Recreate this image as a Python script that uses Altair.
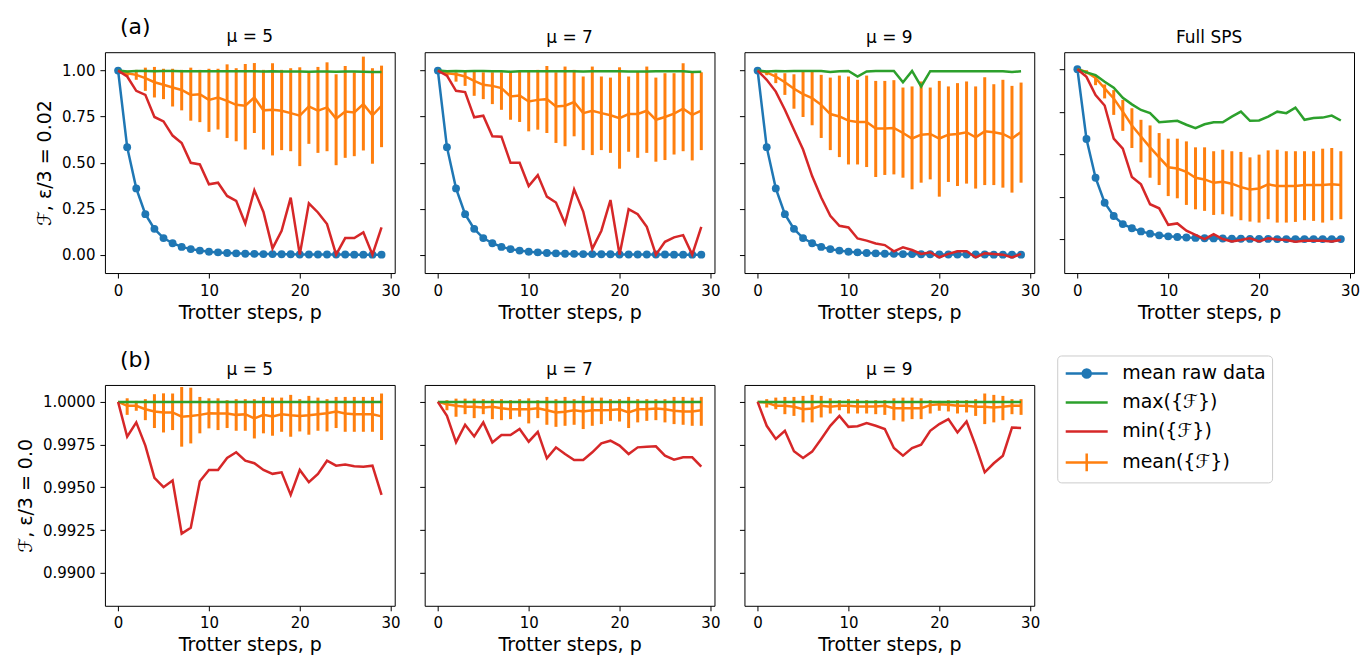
import altair as alt
import pandas as pd

# ---------------- data ----------------
steps = list(range(30))

# top row (epsilon/3 = 0.02)
raw_trotter = [1.0, 0.584, 0.36, 0.22, 0.14, 0.09, 0.062, 0.042, 0.03, 0.022, 0.016, 0.012, 0.009, 0.007, 0.005,
               0.004, 0.003, 0.003, 0.002, 0.002, 0.001, 0.001, 0.001, 0.001, 0.001, 0.001, 0.0, 0.0, 0.0, 0.0]
raw_sps = [1.0, 0.589, 0.361, 0.214, 0.136, 0.088, 0.064, 0.045, 0.032, 0.022, 0.016, 0.012, 0.009, 0.007, 0.005,
           0.004, 0.003, 0.002, 0.002, 0.001, 0.001, 0.001, 0.0, 0.0, 0.0, 0.0, 0.0, 0.0, 0.0, 0.0]

max_mu5 = [1.0, 0.995, 0.998, 0.998, 0.997, 0.998, 0.998, 0.997, 0.996, 0.997, 0.997, 0.996, 0.997, 0.997, 0.996,
           0.996, 0.995, 0.996, 0.995, 0.995, 0.995, 0.994, 0.995, 0.995, 0.994, 0.995, 0.995, 0.994, 0.993, 0.993]
min_mu5 = [1.0, 0.968, 0.89, 0.868, 0.748, 0.724, 0.647, 0.607, 0.499, 0.49, 0.382, 0.391, 0.319, 0.292, 0.169,
           0.35, 0.232, 0.034, 0.13, 0.31, 0.0, 0.279, 0.229, 0.166, 0.0, 0.09, 0.09, 0.121, 0.0, 0.148]
mean_mu5 = [1.0, 0.986, 0.977, 0.959, 0.937, 0.923, 0.908, 0.895, 0.868, 0.872, 0.841, 0.854, 0.836, 0.814, 0.809,
            0.854, 0.784, 0.787, 0.782, 0.769, 0.755, 0.805, 0.782, 0.8, 0.739, 0.778, 0.773, 0.818, 0.757, 0.809]
hi_mu5 = [1.0, 1.0, 1.004, 1.016, 1.02, 1.01, 1.01, 1.004, 1.016, 1.004, 1.01, 1.01, 1.034, 1.013, 1.036,
          1.041, 1.004, 1.04, 1.004, 1.013, 1.018, 0.995, 1.02, 1.045, 0.98, 1.025, 0.991, 1.076, 1.013, 1.027]
lo_mu5 = [1.0, 0.97, 0.95, 0.89, 0.854, 0.845, 0.805, 0.784, 0.728, 0.72, 0.667, 0.68, 0.634, 0.616, 0.571,
          0.661, 0.571, 0.539, 0.568, 0.562, 0.481, 0.602, 0.553, 0.562, 0.486, 0.526, 0.535, 0.566, 0.494, 0.584]

max_mu7 = [1.0, 0.996, 0.998, 0.997, 0.998, 0.998, 0.997, 0.996, 0.994, 0.996, 0.997, 0.997, 0.997, 0.996, 0.997,
           0.997, 0.995, 0.996, 0.996, 0.996, 0.996, 0.995, 0.995, 0.995, 0.996, 0.996, 0.996, 0.997, 0.993, 0.994]
min_mu7 = [1.0, 0.973, 0.89, 0.883, 0.746, 0.755, 0.643, 0.641, 0.499, 0.499, 0.373, 0.432, 0.315, 0.283, 0.169,
           0.355, 0.234, 0.031, 0.13, 0.297, 0.0, 0.247, 0.22, 0.151, 0.0, 0.07, 0.094, 0.106, 0.0, 0.151]
mean_mu7 = [1.0, 0.985, 0.98, 0.968, 0.944, 0.923, 0.917, 0.905, 0.859, 0.865, 0.832, 0.841, 0.845, 0.805, 0.809,
            0.829, 0.769, 0.782, 0.769, 0.757, 0.742, 0.764, 0.764, 0.782, 0.733, 0.748, 0.766, 0.793, 0.76, 0.782]
hi_mu7 = [1.0, 1.0, 0.991, 0.995, 0.998, 0.991, 0.991, 0.991, 0.991, 1.0, 1.0, 1.004, 1.025, 0.991, 1.022,
          1.004, 0.968, 1.022, 0.968, 0.962, 1.018, 0.968, 0.998, 1.022, 0.962, 0.986, 0.986, 1.04, 0.991, 0.991]
lo_mu7 = [1.0, 0.97, 0.94, 0.917, 0.863, 0.845, 0.818, 0.787, 0.733, 0.721, 0.67, 0.679, 0.661, 0.607, 0.589,
          0.643, 0.568, 0.541, 0.568, 0.553, 0.467, 0.559, 0.526, 0.553, 0.505, 0.514, 0.544, 0.562, 0.512, 0.568]

max_mu9 = [1.0, 0.995, 0.998, 0.997, 0.998, 0.998, 0.998, 0.998, 0.993, 0.997, 0.998, 0.968, 0.995, 0.998, 0.998,
           0.998, 0.937, 0.998, 0.914, 0.997, 0.997, 0.997, 0.996, 0.996, 0.996, 0.996, 0.996, 0.996, 0.993, 0.996]
min_mu9 = [1.0, 0.95, 0.886, 0.787, 0.679, 0.571, 0.427, 0.31, 0.211, 0.157, 0.148, 0.088, 0.076, 0.061, 0.052,
           0.018, 0.04, 0.025, 0.004, 0.013, -0.015, 0.004, 0.018, 0.018, -0.015, 0.007, 0.004, 0.0, -0.015, 0.004]
mean_mu9 = [1.0, 0.99, 0.968, 0.937, 0.901, 0.872, 0.85, 0.814, 0.764, 0.751, 0.728, 0.721, 0.721, 0.685, 0.685,
            0.688, 0.661, 0.631, 0.652, 0.656, 0.631, 0.652, 0.656, 0.665, 0.638, 0.67, 0.665, 0.656, 0.631, 0.667]
hi_mu9 = [1.0, 1.0, 0.986, 0.986, 0.98, 0.995, 0.995, 0.977, 0.962, 0.973, 0.968, 0.95, 0.973, 0.944, 0.944,
          0.948, 0.908, 0.914, 0.941, 0.908, 0.944, 0.914, 0.932, 0.941, 0.914, 0.964, 0.926, 0.95, 0.917, 0.935]
lo_mu9 = [1.0, 0.975, 0.932, 0.868, 0.793, 0.748, 0.703, 0.634, 0.568, 0.53, 0.49, 0.49, 0.476, 0.422, 0.433,
          0.436, 0.418, 0.355, 0.391, 0.409, 0.315, 0.395, 0.373, 0.386, 0.359, 0.378, 0.378, 0.364, 0.337, 0.391]

max_sps = [1.0, 0.981, 0.965, 0.926, 0.891, 0.832, 0.793, 0.76, 0.741, 0.688, 0.692, 0.696, 0.673, 0.653, 0.676,
           0.688, 0.688, 0.721, 0.75, 0.696, 0.698, 0.721, 0.75, 0.741, 0.774, 0.702, 0.712, 0.715, 0.727, 0.698]
min_sps = [1.0, 0.955, 0.848, 0.786, 0.591, 0.532, 0.365, 0.322, 0.205, 0.181, 0.084, 0.092, 0.049, 0.025, 0.0,
           0.029, 0.0, -0.014, -0.006, 0.004, -0.014, 0.004, -0.002, -0.006, -0.016, -0.01, -0.01, -0.01, -0.014, -0.006]
mean_sps = [1.0, 0.984, 0.949, 0.887, 0.828, 0.75, 0.669, 0.604, 0.54, 0.481, 0.423, 0.415, 0.396, 0.361, 0.351,
            0.331, 0.337, 0.326, 0.306, 0.292, 0.298, 0.322, 0.312, 0.312, 0.312, 0.318, 0.318, 0.318, 0.322, 0.318]
hi_sps = [1.0, 0.994, 0.965, 0.91, 0.877, 0.819, 0.77, 0.702, 0.669, 0.624, 0.591, 0.591, 0.575, 0.54, 0.54,
          0.517, 0.526, 0.517, 0.513, 0.481, 0.497, 0.522, 0.526, 0.517, 0.517, 0.517, 0.517, 0.532, 0.536, 0.517]
lo_sps = [1.0, 0.97, 0.906, 0.828, 0.731, 0.637, 0.536, 0.452, 0.361, 0.318, 0.253, 0.24, 0.201, 0.175, 0.166,
          0.142, 0.146, 0.133, 0.111, 0.103, 0.097, 0.117, 0.097, 0.097, 0.101, 0.111, 0.107, 0.097, 0.111, 0.117]

# bottom row (epsilon/3 = 0.0)
max_b_mu5 = [1.0, 1.0, 1.0, 1.0, 1.0, 1.0, 1.0, 1.0, 1.0, 1.0, 1.0, 1.0, 1.0, 1.0, 1.0,
             1.0, 1.0, 1.0, 1.0, 1.0, 1.0, 1.0, 1.0, 1.0, 1.0, 1.0, 1.0, 1.0, 1.0, 1.0]
min_b_mu5 = [1.0, 0.99796, 0.9988, 0.99744, 0.99555, 0.99501, 0.9954, 0.99229, 0.99264, 0.99536, 0.99602, 0.99602,
             0.99672, 0.99705, 0.99656, 0.99641, 0.99602, 0.99579, 0.99588, 0.99456, 0.99602, 0.9953, 0.99579,
             0.99656, 0.99627, 0.99633, 0.99623, 0.99621, 0.99627, 0.99456]
mean_b_mu5 = [1.0, 0.99977, 0.99977, 0.99957, 0.99944, 0.99938, 0.99938, 0.99913, 0.99917, 0.99924, 0.99934,
              0.99932, 0.99932, 0.99924, 0.99928, 0.99903, 0.99924, 0.99915, 0.99928, 0.99922, 0.99918, 0.99922,
              0.99928, 0.99934, 0.99944, 0.99932, 0.99928, 0.99928, 0.99928, 0.99915]
hi_b_mu5 = [1.0, 1.00021, 1.00006, 1.00016, 1.00045, 1.0005, 1.00049, 1.00087, 1.00083, 1.00029, 1.00021, 1.00021,
            1.0001, 1.00016, 1.00016, 1.00016, 1.00029, 1.00025, 1.00025, 1.00041, 1.00016, 1.00035, 1.00025,
            1.00016, 1.00029, 1.00029, 1.00029, 1.00029, 1.00029, 1.00049]
lo_b_mu5 = [1.0, 0.99924, 0.99948, 0.99893, 0.99847, 0.99821, 0.99835, 0.99738, 0.99757, 0.99816, 0.99845, 0.99835,
            0.99847, 0.99831, 0.99831, 0.99786, 0.99816, 0.99802, 0.99825, 0.99796, 0.99827, 0.99808, 0.99831,
            0.99827, 0.99847, 0.99825, 0.99825, 0.99825, 0.99825, 0.99777]

max_b_mu7 = [1.0, 1.0, 1.0, 1.0, 1.0, 1.0, 1.0, 1.0, 1.0, 1.0, 1.0, 1.0, 1.0, 1.0, 1.0,
             1.0, 1.0, 1.0, 1.0, 1.0, 1.0, 1.0, 1.0, 1.0, 1.0, 1.0, 1.0, 1.0, 1.0, 1.0]
min_b_mu7 = [1.0, 0.99918, 0.99763, 0.99866, 0.99798, 0.9988, 0.99763, 0.99806, 0.99806, 0.99841, 0.99767, 0.99825,
             0.9967, 0.99734, 0.99695, 0.9966, 0.9966, 0.99705, 0.99757, 0.99773, 0.99744, 0.99695, 0.99734,
             0.99738, 0.9974, 0.99685, 0.99662, 0.99676, 0.99676, 0.99621]
mean_b_mu7 = [1.0, 0.99986, 0.99977, 0.99971, 0.99971, 0.99967, 0.99971, 0.99963, 0.99957, 0.99957, 0.99957,
              0.99963, 0.99951, 0.99938, 0.99942, 0.99951, 0.99944, 0.99951, 0.99951, 0.99953, 0.99957, 0.99938,
              0.99957, 0.99957, 0.99961, 0.99957, 0.99948, 0.99944, 0.99944, 0.99951]
hi_b_mu7 = [1.0, 1.0001, 1.00019, 1.00019, 1.00019, 1.00016, 1.00016, 1.00016, 1.0001, 1.00016, 1.00021, 1.0001,
            1.00029, 1.00016, 1.00029, 1.00016, 1.00035, 1.00025, 1.00025, 1.00016, 1.00016, 1.00029, 1.00016,
            1.00016, 1.00016, 1.00016, 1.00029, 1.00029, 1.00025, 1.00029]
lo_b_mu7 = [1.0, 0.99951, 0.99913, 0.99928, 0.99905, 0.99928, 0.99899, 0.99893, 0.99899, 0.99913, 0.99874, 0.99905,
            0.99866, 0.99854, 0.9986, 0.99866, 0.99841, 0.9986, 0.9987, 0.99889, 0.99885, 0.99847, 0.9988, 0.99889,
            0.99893, 0.9988, 0.9987, 0.99866, 0.9986, 0.9986]

max_b_mu9 = [1.0, 1.0, 1.0, 1.0, 1.0, 1.0, 1.0, 1.0, 1.0, 1.0, 1.0, 1.0, 1.0, 1.0, 1.0,
             1.0, 1.0, 1.0, 1.0, 1.0, 1.0, 1.0, 1.0, 1.0, 1.0, 1.0, 1.0, 1.0, 1.0, 1.0]
min_b_mu9 = [1.0, 0.9986, 0.99783, 0.99831, 0.99711, 0.99672, 0.99709, 0.99783, 0.9986, 0.99918, 0.99854, 0.99858,
             0.99876, 0.9986, 0.99841, 0.9973, 0.99685, 0.9973, 0.9975, 0.99831, 0.9987, 0.99899, 0.99821,
             0.99885, 0.99744, 0.99588, 0.99641, 0.99685, 0.9985, 0.99847]
mean_b_mu9 = [1.0, 0.99996, 0.99977, 0.99977, 0.99971, 0.99957, 0.99961, 0.99977, 0.99971, 0.99977, 0.99977,
              0.99973, 0.99973, 0.99973, 0.99977, 0.99963, 0.99963, 0.99963, 0.99963, 0.99981, 0.99986, 0.99983,
              0.99977, 0.99977, 0.99971, 0.99971, 0.99967, 0.99971, 0.99977, 0.99977]
hi_b_mu9 = [1.0, 1.00016, 1.00025, 1.00029, 1.00029, 1.00035, 1.00041, 1.00035, 1.00021, 1.0001, 1.00016, 1.00016,
            1.0001, 1.0001, 1.0001, 1.00021, 1.00025, 1.00025, 1.00021, 1.0001, 1.00006, 1.0001, 1.0001, 1.0001,
            1.00016, 1.00049, 1.00041, 1.00035, 1.00016, 1.00016]
lo_b_mu9 = [1.0, 0.99967, 0.99957, 0.99928, 0.99918, 0.9988, 0.9988, 0.99909, 0.99932, 0.99951, 0.99932, 0.99932,
            0.99932, 0.99928, 0.99924, 0.99893, 0.99885, 0.99899, 0.99899, 0.99932, 0.99948, 0.99944, 0.99932,
            0.99938, 0.99918, 0.9987, 0.9988, 0.99893, 0.99928, 0.99924]

legend_labels = ["mean raw data", "max({ℱ})", "min({ℱ})", "mean({ℱ})"]
x_ticks = [0, 10, 20, 30]
y_ticks_top = [0.0, 0.25, 0.5, 0.75, 1.0]
y_ticks_bottom = [0.99, 0.9925, 0.995, 0.9975, 1.0]

# ---------------- style ----------------
BLUE, ORANGE, GREEN, RED = "#1f77b4", "#ff7f0e", "#2ca02c", "#d62728"
FONT = "DejaVu Sans"
X_DOMAIN = [-1.45, 30.45]
W, H = 290, 221
LW = 2.5
TITLE_OFFSET = 5.5
LETTER_SIZE = 22

# legend symbols: 1 unit = 10.5 px (symbol size 441), paths span 4 units = 42 px
PATH_LINE = "M-2,0L2,0"
PATH_RAW = ("M-2,0L2,0M0.38,0A0.38,0.38,0,1,1,-0.38,0A0.38,0.38,0,1,1,0.38,0"
            "M0.17,0A0.17,0.17,0,1,1,-0.17,0A0.17,0.17,0,1,1,0.17,0")
PATH_ERR = "M-2,0L2,0M0,-0.85L0,0.85"


def panel(title, raw, fmax, fmin, fmean, flo, fhi, ydomain, yvalues, yfmt, first, ytitle,
          letter=None, legend=False):
    d = {"p": steps, "fmax": fmax, "fmin": fmin, "fmean": fmean, "flo": flo, "fhi": fhi}
    if raw is not None:
        d["raw"] = raw
    df = pd.DataFrame(d)
    xs = alt.Scale(domain=X_DOMAIN, nice=False, zero=False)
    xa = alt.Axis(values=x_ticks, format="d", title="Trotter steps, p")
    ys = alt.Scale(domain=ydomain, nice=False, zero=False)
    ya = alt.Axis(values=yvalues, format=yfmt, labels=first, title=ytitle if first else None)
    X = alt.X("p:Q", scale=xs, axis=xa)
    base = alt.Chart(df)
    layers = []
    if raw is not None:
        layers.append(base.mark_line(color=BLUE, strokeWidth=LW,
                                     point=alt.OverlayMarkDef(color=BLUE, size=62, filled=True, opacity=1))
                      .encode(x=X, y=alt.Y("raw:Q", scale=ys, axis=ya)))
    layers.append(base.mark_rule(color=ORANGE, strokeWidth=3)
                  .encode(x=X, y=alt.Y("flo:Q", scale=ys, axis=ya), y2="fhi:Q"))
    layers.append(base.mark_line(color=ORANGE, strokeWidth=LW)
                  .encode(x=X, y=alt.Y("fmean:Q", scale=ys, axis=ya)))
    layers.append(base.mark_line(color=GREEN, strokeWidth=LW)
                  .encode(x=X, y=alt.Y("fmax:Q", scale=ys, axis=ya)))
    layers.append(base.mark_line(color=RED, strokeWidth=LW)
                  .encode(x=X, y=alt.Y("fmin:Q", scale=ys, axis=ya)))
    offset = TITLE_OFFSET
    if letter is not None:
        layers.append(alt.Chart(pd.DataFrame({"tag": [letter]}))
                      .mark_text(align="left", baseline="alphabetic", font=FONT, fontSize=LETTER_SIZE,
                                 color="black", x=15, y=-18)
                      .encode(text="tag:N"))
        # the letter text sits above the plot; pull this panel's title back down to the common line
        offset = TITLE_OFFSET - (18 + 0.8 * LETTER_SIZE)
    if legend:
        ldf = pd.DataFrame({"series": legend_labels, "p": [None] * 4, "v": [None] * 4})
        leg = alt.Legend(orient="none", legendX=953, legendY=303.5, title=None, padding=6,
                         strokeColor="#cccccc", fillColor="white", cornerRadius=4,
                         labelFont=FONT, labelFontSize=19, labelColor="black",
                         symbolSize=441, symbolStrokeWidth=2.5, symbolOffset=11.5,
                         rowPadding=7, labelOffset=23.5)
        layers.append(alt.Chart(ldf).mark_point(filled=False, opacity=1, strokeWidth=2.5, size=441)
                      .encode(x=alt.X("p:Q", scale=xs, axis=xa),
                              y=alt.Y("v:Q", scale=ys, axis=ya),
                              color=alt.Color("series:N", legend=leg,
                                              scale=alt.Scale(domain=legend_labels,
                                                              range=[BLUE, GREEN, RED, ORANGE])),
                              shape=alt.Shape("series:N", legend=leg,
                                              scale=alt.Scale(domain=legend_labels,
                                                              range=[PATH_RAW, PATH_LINE, PATH_LINE, PATH_ERR]))))
    return alt.layer(*layers).properties(width=W, height=H,
                                         title=alt.TitleParams(title, offset=offset))


TOP_DOM = [-0.1, 1.1]
SPS_DOM = [-0.2, 1.1]
BOT_DOM = [0.98807, 1.00099]
t_title = "ℱ,  ε/3 = 0.02"
b_title = "ℱ,  ε/3 = 0.0"

panels = [
    panel("μ = 5", raw_trotter, max_mu5, min_mu5, mean_mu5, lo_mu5, hi_mu5, TOP_DOM, y_ticks_top, ".2f", True, t_title, letter="(a)"),
    panel("μ = 7", raw_trotter, max_mu7, min_mu7, mean_mu7, lo_mu7, hi_mu7, TOP_DOM, y_ticks_top, ".2f", False, t_title),
    panel("μ = 9", raw_trotter, max_mu9, min_mu9, mean_mu9, lo_mu9, hi_mu9, TOP_DOM, y_ticks_top, ".2f", False, t_title),
    panel("Full SPS", raw_sps, max_sps, min_sps, mean_sps, lo_sps, hi_sps, SPS_DOM, y_ticks_top, ".2f", False, t_title),
    panel("μ = 5", None, max_b_mu5, min_b_mu5, mean_b_mu5, lo_b_mu5, hi_b_mu5, BOT_DOM, y_ticks_bottom, ".4f", True, b_title, letter="(b)"),
    panel("μ = 7", None, max_b_mu7, min_b_mu7, mean_b_mu7, lo_b_mu7, hi_b_mu7, BOT_DOM, y_ticks_bottom, ".4f", False, b_title),
    panel("μ = 9", None, max_b_mu9, min_b_mu9, mean_b_mu9, lo_b_mu9, hi_b_mu9, BOT_DOM, y_ticks_bottom, ".4f", False, b_title, legend=True),
]

chart = (alt.concat(*panels, columns=4, spacing={"row": 112, "column": 30}, bounds="flush")
         .properties(padding={"left": 16, "top": 15, "right": 0, "bottom": 0}, background="white")
         .configure_view(stroke="black", strokeWidth=1)
         .configure_axis(domain=False, grid=False, labelFont=FONT, titleFont=FONT, labelFontSize=15,
                         titleFontSize=19, titleFontWeight="normal", tickColor="black", labelColor="black",
                         titleColor="black", tickSize=5, tickWidth=1)
         .configure_axisX(labelPadding=5, titlePadding=5)
         .configure_axisY(labelPadding=5, titlePadding=7)
         .configure_title(font=FONT, fontSize=17, fontWeight="normal", color="black"))

chart.save("out.html", embed_options={"renderer": "svg", "actions": False})
